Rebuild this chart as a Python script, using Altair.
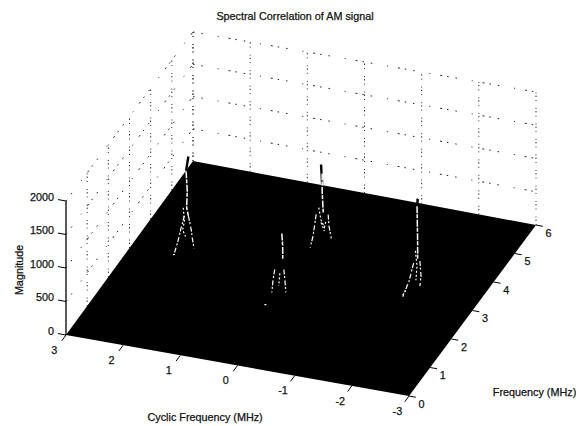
import altair as alt
import numpy as np
import pandas as pd

# axis tick values
cyclic_ticks = [3, 2, 1, 0, -1, -2, -3]
freq_ticks = [0, 1, 2, 3, 4, 5, 6]
mag_ticks = [0, 500, 1000, 1500, 2000]

# peak bases (cyclic frequency, frequency)
peak_alpha = [2, 0, 0, -2]
peak_freq = [3, 2, 4, 3]

# spike tips: offset in cyclic frequency, magnitude
tip_da = [[-0.03, 0.01], [-0.04, -0.04], [0.02, 0.0], [-0.04, -0.03]]
tip_mag = [[1550, 1330], [1125, 1030], [1300, 1000], [1530, 1300]]

# white ridges: stem, left flank, right flank, inner speckle of each peak
stem_da = [[0.01, -0.01, 0.0, -0.03], [-0.035, -0.05, -0.05], [0.0, 0.0, -0.02], [-0.03, -0.04, -0.04]]
stem_mag = [[1320, 1025, 770, 650], [1125, 940, 750], [1165, 895, 565], [1415, 890, 620]]
left_da = [[0.04, 0.10, 0.15, 0.22], [0.09, 0.12, 0.14], [0.105, 0.16, 0.21], [0.03, 0.11, 0.22]]
left_mag = [[640, 435, 248, 30], [565, 395, 212], [530, 193, 10], [550, 267, 15]]
right_da = [[-0.03, -0.08, -0.10, -0.13], [-0.07, -0.09, -0.105], [-0.105, -0.12, -0.16], [-0.08, -0.10, -0.08]]
right_mag = [[650, 450, 315, 170], [590, 425, 250], [560, 385, 210], [600, 375, 222]]
inner_da = [[0.06, 0.04, 0.07, 0.02], [0.0, 0.02], [0.06, 0.02, -0.04, -0.07], [0.0, -0.03, -0.01]]
inner_mag = [[760, 560, 420, 330], [520, 330], [640, 460, 360, 470], [740, 520, 300]]
foot_da = [[0.24, 0.19], [0.27, 0.22], [0.02, -0.04], [0.22, 0.17]]
foot_mag = [[20, 30], [10, 15], [420, 300], [40, 120]]

A = np.array([66.0, 335.0])   # cyclic 3, freq 0
B = np.array([409.0, 396.0])  # cyclic -3, freq 0
C = np.array([536.0, 225.0])  # cyclic -3, freq 6
D = np.array([193.0, 161.0])  # cyclic 3, freq 6
W, H = 568, 416


def project(alpha, freq, mag=0.0):
    u, v = (3 - alpha) / 6, freq / 6
    p = (1 - u) * (1 - v) * A + u * (1 - v) * B + u * v * C + (1 - u) * v * D
    return p[0], p[1] - mag / 2000 * (134 - 5 * v + 4 * u * v)


def seg_rows(pts, gid):
    return [dict(x=project(*p)[0], y=project(*p)[1], g=gid, i=i) for i, p in enumerate(pts)]


xs = alt.Scale(domain=[8, 8 + W], nice=False, zero=False)
ys = alt.Scale(domain=[8 + H, 8], nice=False, zero=False)


def lines(rows, **kw):
    return alt.Chart(pd.DataFrame(rows)).mark_line(**kw).encode(
        x=alt.X("x:Q", scale=xs, axis=None),
        y=alt.Y("y:Q", scale=ys, axis=None),
        detail="g:N",
        order="i:Q",
    )


def texts(rows, **kw):
    return alt.Chart(pd.DataFrame(rows)).mark_text(
        font="Liberation Sans", fontSize=10.8, color="#111", stroke="#111", strokeWidth=0.25, **kw
    ).encode(
        x=alt.X("x:Q", scale=xs, axis=None),
        y=alt.Y("y:Q", scale=ys, axis=None),
        text="t:N",
    )


# dotted wall grid
h_rows, v_rows = [], []
gid = 0
for z in mag_ticks[1:]:
    h_rows += seg_rows([(3, 0, z), (3, 6, z)], gid); gid += 1
    h_rows += seg_rows([(3, 6, z), (-3, 6, z)], gid); gid += 1
for a in cyclic_ticks:
    v_rows += seg_rows([(a, 6, 0), (a, 6, 2000)], gid); gid += 1
for f in freq_ticks[1:]:
    v_rows += seg_rows([(3, f, 0), (3, f, 2000)], gid); gid += 1
grid_h = lines(h_rows, color="#222", strokeWidth=1, strokeDash=[1.5, 7, 1.5, 15, 1, 10, 2, 5])
grid_v = lines(v_rows, color="#333", strokeWidth=1, strokeDash=[1, 3, 1.5, 2, 1, 7])

# black surface floor
ca, cb, cc, cd = project(3, 0), project(-3, 0), project(-3, 6), project(3, 6)
edge_x = sorted([ca[0], cb[0], cc[0], cd[0]])
upper = np.interp(edge_x, [ca[0], cd[0], cc[0]], [ca[1], cd[1], cc[1]])
lower = np.interp(edge_x, [ca[0], cb[0], cc[0]], [ca[1], cb[1], cc[1]])
floor = alt.Chart(pd.DataFrame(dict(x=edge_x, y=upper, y2=lower))).mark_area(color="#000", opacity=1).encode(
    x=alt.X("x:Q", scale=xs, axis=None),
    y=alt.Y("y:Q", scale=ys, axis=None),
    y2="y2:Q",
)

# peaks
tip_rows, stem_rows, ridge_rows, foot_rows = [], [], [], []
for n, (pa, pf) in enumerate(zip(peak_alpha, peak_freq)):
    tip_rows += seg_rows([(pa + d, pf, m) for d, m in zip(tip_da[n], tip_mag[n])], gid); gid += 1
    stem_rows += seg_rows([(pa + d, pf, m) for d, m in zip(stem_da[n], stem_mag[n])], gid); gid += 1
    for das, mags in ((left_da, left_mag), (right_da, right_mag)):
        ridge_rows += seg_rows([(pa + d, pf, m) for d, m in zip(das[n], mags[n])], gid); gid += 1
    foot_rows += seg_rows([(pa + d, pf, m) for d, m in zip(foot_da[n], foot_mag[n])], gid); gid += 1
    foot_rows += seg_rows([(pa + d, pf, m) for d, m in zip(inner_da[n], inner_mag[n])], gid); gid += 1
tips = lines(tip_rows, color="#000", strokeWidth=2.4)
stems = lines(stem_rows, color="#fff", strokeWidth=1.5, strokeDash=[7, 1, 4, 1.5])
ridges = lines(ridge_rows, color="#fff", strokeWidth=1.2, strokeDash=[5, 1.5, 2, 2.5])
feet = lines(foot_rows, color="#fff", strokeWidth=1.2, strokeDash=[2, 2])

# axes
axis_rows = seg_rows([(3, 0, 0), (3, 0, 2000)], gid); gid += 1
axis_line = lines(axis_rows, color="#000", strokeWidth=1.3)
tick_rows = []
for a in cyclic_ticks:
    tick_rows += seg_rows([(a, 0, 0), (a, -0.2, 0)], gid); gid += 1
for f in freq_ticks:
    tick_rows += seg_rows([(-3, f, 0), (-3.12, f, 0)], gid); gid += 1
for z in mag_ticks:
    tick_rows += seg_rows([(3, 0, z), (3.14, 0, z)], gid); gid += 1
ticks = lines(tick_rows, color="#000", strokeWidth=1)


def label(alpha, freq, mag, text):
    px, py = project(alpha, freq, mag)
    return dict(x=px, y=py, t=text)


cyc_labels = texts([label(a, -0.55, 0, str(a)) for a in cyclic_ticks], align="center", baseline="middle")
frq_labels = texts([label(-3.22, f, -100, str(f)) for f in freq_ticks], align="center", baseline="middle")
mag_labels = texts([label(3.21, 0, z + 20, str(z)) for z in mag_ticks], align="right", baseline="middle")
x_title = texts([label(-0.1, -1.8, 0, "Cyclic Frequency (MHz)")], align="center", baseline="middle")
y_title = texts([label(-4.9, 0.8, 0, "Frequency (MHz)")], align="center", baseline="middle")
z_title = texts([label(3.8, 0, 850, "Magnitude")], align="center", baseline="middle", angle=270)
title = texts([dict(x=295.0, y=17.0, t="Spectral Correlation of AM signal")], align="center", baseline="middle")

chart = alt.layer(
    grid_h, grid_v, floor, tips, stems, ridges, feet, axis_line, ticks,
    cyc_labels, frq_labels, mag_labels, x_title, y_title, z_title, title,
).properties(
    width=W, height=H, padding=0, autosize=alt.AutoSizeParams(type="none"),
).configure_view(stroke=None)

chart.save("out.html", embed_options={"renderer": "svg", "actions": False})
